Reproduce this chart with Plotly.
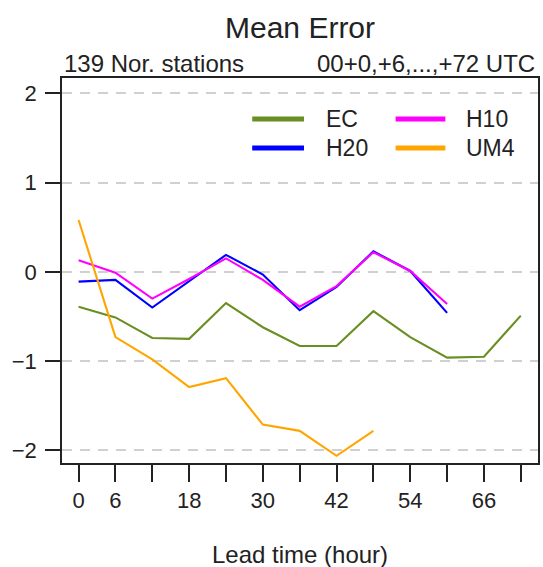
import plotly.graph_objects as go

# ---- data ----
lead_hours = [0, 6, 12, 18, 24, 30, 36, 42, 48, 54, 60, 66, 72]
ec = [-0.39, -0.51, -0.74, -0.75, -0.35, -0.62, -0.83, -0.83, -0.44, -0.73, -0.96, -0.95, -0.49]
h20 = [-0.11, -0.09, -0.40, -0.10, 0.19, -0.03, -0.43, -0.17, 0.23, 0.01, -0.46]
h10 = [0.13, -0.01, -0.30, -0.08, 0.15, -0.09, -0.39, -0.16, 0.22, 0.01, -0.36]
um4 = [0.58, -0.73, -0.98, -1.29, -1.19, -1.71, -1.78, -2.06, -1.78]

series_names = ["EC", "H10", "H20", "UM4"]
series_values = [ec, h10, h20, um4]
series_colors = ["#6B8E23", "#FF00FF", "#0000FF", "#FFA500"]

x_tick_vals = lead_hours
x_tick_text = ["0", "6", "", "18", "", "30", "", "42", "", "54", "", "66", ""]
y_tick_vals = [-2, -1, 0, 1, 2]

title_text = "Mean Error"
left_sub = "139 Nor. stations"
right_sub = "00+0,+6,...,+72 UTC"
x_title = "Lead time (hour)"

# ---- layout geometry ----
W, H = 543, 567
L, R, T, B = 62, 3, 78, 104
PW = W - L - R
PH = H - T - B
FONT = "Liberation Sans, Arial, sans-serif"
TXT = "#222222"


def px_x(p):
    return (p - L) / PW


def px_y(p):
    return (H - B - p) / PH


fig = go.Figure()
draw_order = [0, 2, 1, 3]  # EC, H20, H10, UM4
for i in draw_order:
    vals = series_values[i]
    fig.add_trace(go.Scatter(
        x=lead_hours[:len(vals)], y=vals, mode="lines",
        name=series_names[i],
        line=dict(color=series_colors[i], width=2.1),
        showlegend=False,
    ))

annotations = [
    dict(text=title_text, x=0.5, y=px_y(27), xref="paper", yref="paper",
         xanchor="center", yanchor="middle", showarrow=False,
         font=dict(size=30, color=TXT, family=FONT)),
    dict(text=left_sub, x=0, y=px_y(64), xref="paper", yref="paper",
         xanchor="left", yanchor="middle", showarrow=False,
         font=dict(size=24, color=TXT, family=FONT)),
    dict(text=right_sub, x=px_x(539), y=px_y(64), xref="paper", yref="paper",
         xanchor="right", yanchor="middle", showarrow=False,
         font=dict(size=24, color=TXT, family=FONT)),
    dict(text=x_title, x=0.5, y=px_y(554), xref="paper", yref="paper",
         xanchor="center", yanchor="middle", showarrow=False,
         font=dict(size=24, color=TXT, family=FONT)),
]

shapes = []
# manual legend (2 columns)
leg_pos = [(253, 305, 325, 119), (397, 447, 466, 119),
           (253, 305, 325, 148), (397, 447, 466, 148)]
for (x0, x1, xt, yy), name, col in zip(leg_pos, series_names, series_colors):
    shapes.append(dict(type="line", xref="paper", yref="paper",
                       x0=px_x(x0), x1=px_x(x1), y0=px_y(yy), y1=px_y(yy),
                       line=dict(color=col, width=5)))
    annotations.append(dict(text=name, x=px_x(xt), y=px_y(yy), xref="paper", yref="paper",
                            xanchor="left", yanchor="middle", showarrow=False,
                            font=dict(size=23, color=TXT, family=FONT)))

fig.update_layout(
    width=W, height=H,
    margin=dict(l=L, r=R, t=T, b=B, pad=0),
    paper_bgcolor="white", plot_bgcolor="white",
    font=dict(family=FONT, color=TXT),
    annotations=annotations, shapes=shapes,
    showlegend=False,
)
fig.update_xaxes(
    range=[-2.7, 74.8], tickvals=x_tick_vals, ticktext=x_tick_text,
    showgrid=False, zeroline=False,
    showline=True, mirror=True, linecolor="#222222", linewidth=1.5,
    ticks="outside", ticklen=17, tickwidth=2, tickcolor="#222222",
    tickfont=dict(size=22, color=TXT, family=FONT),
)
fig.update_yaxes(
    range=[-2.14, 2.17], tickvals=y_tick_vals,
    showgrid=True, gridcolor="#d0d0d0", gridwidth=1.5, griddash="10px,8px",
    zeroline=False,
    showline=True, mirror=True, linecolor="#222222", linewidth=1.5,
    ticks="outside", ticklen=15, tickwidth=2, tickcolor="#222222",
    ticklabelstandoff=4,
    tickfont=dict(size=22, color=TXT, family=FONT),
)

fig.write_html(
    "out.html",
    config={"displayModeBar": False},
    post_script="document.body.style.margin='0';document.body.style.padding='0';",
)
